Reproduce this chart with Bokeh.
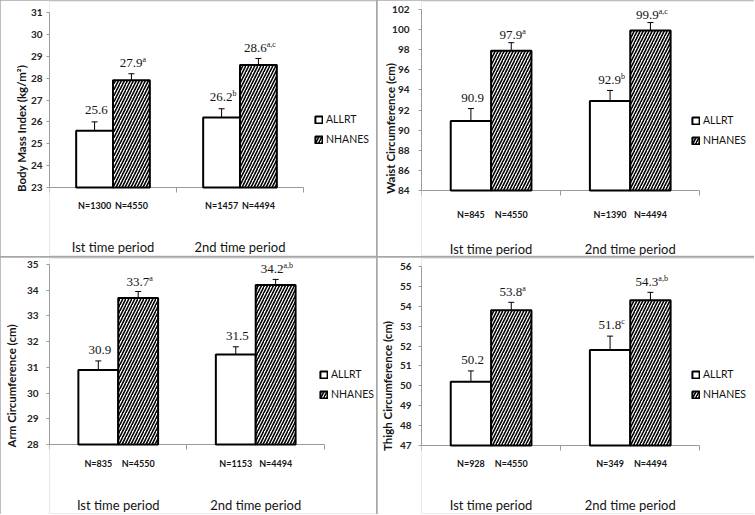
import numpy as np
from bokeh.plotting import figure
from bokeh.models import (ColumnDataSource, Range1d, FixedTicker, LinearAxis, Whisker,
                          TeeHead, Legend, LegendItem, LabelSet, GridPlot)
from bokeh.embed import file_html
from bokeh.resources import INLINE

# ---------------- data ----------------
periods = ["Ist time period", "2nd time period"]
series = ["ALLRT", "NHANES"]

bmi_allrt = [25.6, 26.2]
bmi_allrt_err = [0.4, 0.4]
bmi_allrt_sup = ["", "b"]
bmi_allrt_n = ["N=1300", "N=1457"]
bmi_nhanes = [27.9, 28.6]
bmi_nhanes_err = [0.3, 0.3]
bmi_nhanes_sup = ["a", "a,c"]
bmi_nhanes_n = ["N=4550", "N=4494"]

waist_allrt = [90.9, 92.9]
waist_allrt_err = [1.25, 1.05]
waist_allrt_sup = ["", "b"]
waist_allrt_n = ["N=845", "N=1390"]
waist_nhanes = [97.9, 99.9]
waist_nhanes_err = [0.8, 0.8]
waist_nhanes_sup = ["a", "a,c"]
waist_nhanes_n = ["N=4550", "N=4494"]

arm_allrt = [30.9, 31.5]
arm_allrt_err = [0.35, 0.3]
arm_allrt_sup = ["", ""]
arm_allrt_n = ["N=835", "N=1153"]
arm_nhanes = [33.7, 34.2]
arm_nhanes_err = [0.25, 0.22]
arm_nhanes_sup = ["a", "a,b"]
arm_nhanes_n = ["N=4550", "N=4494"]

thigh_allrt = [50.2, 51.8]
thigh_allrt_err = [0.55, 0.7]
thigh_allrt_sup = ["", "c"]
thigh_allrt_n = ["N=928", "N=349"]
thigh_nhanes = [53.8, 54.3]
thigh_nhanes_err = [0.4, 0.4]
thigh_nhanes_sup = ["a", "a,b"]
thigh_nhanes_n = ["N=4550", "N=4494"]

FONT = "Lato"
AXIS_GRAY = "#9a9a9a"
TXT = "#141414"

CW = {"0": .58, "1": .58, "2": .58, "3": .58, "4": .58, "5": .58, "6": .58,
      "7": .58, "8": .58, "9": .58, ".": .27, "a": .50, "b": .56, "c": .46, ",": .23}


def tw(s, size):
    return sum(CW.get(ch, .55) for ch in s) * size


def make_panel(title, ylo, yhi, ystep, allrt, allrt_err, allrt_sup, allrt_n,
               nh, nh_err, nh_sup, nh_n, L):
    w, h = L["w"], L["h"]
    al, ar, at, ab = L["al"], L["ar"], L["at"], L["ab"]
    ncat = len(periods)
    # frame covers the canvas; the axes are bounded to the data area
    dpp = (yhi - ylo) / (ab - at)
    x_end = ncat * (w - al) / (ar - al)
    y_end = yhi + (at - 1) * dpp
    y_start = ylo - (h - 1 - ab) * dpp
    p = figure(width=w, height=h, output_backend="svg", toolbar_location=None,
               x_range=Range1d(0, x_end), y_range=Range1d(y_start, y_end),
               x_axis_location=None, min_border_left=al, min_border_right=0,
               min_border_top=1, min_border_bottom=1)
    p.outline_line_color = None
    p.xgrid.visible = False
    p.ygrid.visible = False

    bw = 0.29
    centers = np.arange(ncat) + 0.5
    xa = centers - bw / 2
    xn = centers + bw / 2

    src_a = ColumnDataSource(dict(x=xa, top=allrt, up=np.array(allrt) + np.array(allrt_err),
                                  lo=np.array(allrt) - np.array(allrt_err)))
    src_n = ColumnDataSource(dict(x=xn, top=nh, up=np.array(nh) + np.array(nh_err),
                                  lo=np.array(nh) - np.array(nh_err)))

    r_a = p.vbar(x="x", top="top", bottom=ylo, width=bw, source=src_a,
                 fill_color="white", line_color="black", line_width=2)
    r_n = p.vbar(x="x", top="top", bottom=ylo, width=bw, source=src_n,
                 fill_color="white", line_color="black", line_width=2,
                 hatch_pattern="right_diagonal_line", hatch_color="black",
                 hatch_scale=6, hatch_weight=1.6)

    for s in (src_a, src_n):
        p.add_layout(Whisker(source=s, base="x", upper="up", lower="lo",
                             line_color="black", line_width=1,
                             upper_head=TeeHead(size=6, line_color="black", line_width=1),
                             lower_head=TeeHead(size=6, line_color="black", line_width=1)))

    # value labels with superscripts
    vals = list(allrt) + list(nh)
    sups = list(allrt_sup) + list(nh_sup)
    xs = list(xa) + list(xn)
    ups = list(np.array(allrt) + np.array(allrt_err)) + list(np.array(nh) + np.array(nh_err))
    gaps = [L["gap"][0]] * ncat + [L["gap"][1]] * ncat
    texts = ["%.1f" % v for v in vals]
    xoff = [(tw(t, 13) - tw(s, 8)) / 2 for t, s in zip(texts, sups)]
    yoff = list(gaps)
    yoff_sup = [g + 5 for g in gaps]
    lsrc = ColumnDataSource(dict(x=xs, y=ups, text=texts, sup=sups, xoff=xoff,
                                 yoff=yoff, yoff_sup=yoff_sup))
    p.add_layout(LabelSet(x="x", y="y", text="text", source=lsrc, x_offset="xoff", y_offset="yoff",
                          text_align="right", text_baseline="alphabetic",
                          text_font=FONT, text_font_size="13px", text_color=TXT))
    p.add_layout(LabelSet(x="x", y="y", text="sup", source=lsrc, x_offset="xoff",
                          y_offset="yoff_sup",
                          text_align="left", text_baseline="alphabetic",
                          text_font=FONT, text_font_size="8px", text_color=TXT))

    # y axis
    ya = p.yaxis[0]
    ya.bounds = (ylo, yhi)
    ya.ticker = FixedTicker(ticks=list(range(ylo, yhi + 1, ystep)), minor_ticks=[])
    ya.axis_label = title
    ya.axis_label_text_font = FONT
    ya.axis_label_text_font_style = "bold"
    ya.axis_label_text_font_size = "11.5px"
    ya.axis_label_text_color = TXT
    ya.axis_label_standoff = L["als"]
    ya.major_label_text_font = FONT
    ya.major_label_text_font_style = "bold"
    ya.major_label_text_font_size = "10px"
    ya.major_label_text_color = "#222222"
    ya.major_label_standoff = L["ys"]
    ya.axis_line_color = AXIS_GRAY
    ya.major_tick_line_color = AXIS_GRAY
    ya.major_tick_out = 3
    ya.major_tick_in = 0

    # category axis at the bottom of the data area: line, separating ticks, N labels
    ticks = [round(float(v), 4) for v in sorted(xs)]
    nlabels = {}
    for x, t in zip(xa, allrt_n):
        nlabels[round(float(x), 4)] = t
    for x, t in zip(xn, nh_n):
        nlabels[round(float(x), 4)] = t
    ax1 = LinearAxis(ticker=FixedTicker(ticks=ticks, minor_ticks=list(range(ncat + 1))),
                     bounds=(0, ncat), fixed_location=ylo, level="underlay",
                     major_label_overrides=nlabels,
                     axis_line_color=AXIS_GRAY, major_tick_line_color=None,
                     major_tick_out=5, major_tick_in=0,
                     minor_tick_line_color=AXIS_GRAY, minor_tick_out=5, minor_tick_in=0,
                     major_label_standoff=L["ns"],
                     major_label_text_font=FONT, major_label_text_font_style="bold",
                     major_label_text_font_size="9px", major_label_text_color=TXT)
    p.add_layout(ax1, "below")
    ax2 = LinearAxis(ticker=FixedTicker(ticks=list(centers), minor_ticks=[]),
                     fixed_location=ylo,
                     major_label_overrides={float(c): t for c, t in zip(centers, periods)},
                     axis_line_color=None, major_tick_line_color=None,
                     major_tick_out=0, major_tick_in=0, minor_tick_out=0, minor_tick_in=0,
                     minor_tick_line_color=None,
                     major_label_standoff=L["ps"],
                     major_label_text_font=FONT, major_label_text_font_size="13px",
                     major_label_text_color=TXT)
    p.add_layout(ax2, "below")

    # legend, positioned from the reference: glyph left edge and first glyph center
    gx, gy = L["leg"]
    item_h = 20
    leg_bottom = gy - item_h / 2 + 2 * item_h
    legend = Legend(items=[LegendItem(label=series[0], renderers=[r_a]),
                           LegendItem(label=series[1], renderers=[r_n])],
                    location=(gx - al, (h - 1) - leg_bottom), orientation="vertical",
                    glyph_width=9, glyph_height=9, label_height=item_h, spacing=0,
                    padding=0, margin=0, label_standoff=3,
                    label_text_font=FONT, label_text_font_size="10.5px",
                    label_text_color=TXT,
                    border_line_color=None, background_fill_color=None)
    p.add_layout(legend, "center")
    return p


L1 = dict(w=376, h=256, al=49, ar=303, at=12, ab=187, als=0, ys=4, ns=7, ps=51,
          leg=(314, 119), gap=(8, 6.5))
L2 = dict(w=377, h=256, al=42, ar=322, at=9, ab=190, als=-8, ys=9, ns=13, ps=50,
          leg=(312, 120), gap=(6.5, 3.7))
L3 = dict(w=376, h=257, al=43, ar=323, at=7, ab=187, als=6, ys=8, ns=8, ps=52,
          leg=(313, 117), gap=(7.2, 6))
L4 = dict(w=377, h=257, al=42, ar=322, at=9, ab=188, als=3, ys=7, ns=7, ps=51,
          leg=(312, 117), gap=(7, 6.2))

p1 = make_panel("Body Mass Index (kg/m²)", 23, 31, 1, bmi_allrt, bmi_allrt_err, bmi_allrt_sup,
                bmi_allrt_n, bmi_nhanes, bmi_nhanes_err, bmi_nhanes_sup, bmi_nhanes_n, L1)
p2 = make_panel("Waist Circumference (cm)", 84, 102, 2, waist_allrt, waist_allrt_err,
                waist_allrt_sup, waist_allrt_n, waist_nhanes, waist_nhanes_err,
                waist_nhanes_sup, waist_nhanes_n, L2)
p3 = make_panel("Arm Circumference (cm)", 28, 35, 1, arm_allrt, arm_allrt_err, arm_allrt_sup,
                arm_allrt_n, arm_nhanes, arm_nhanes_err, arm_nhanes_sup, arm_nhanes_n, L3)
p4 = make_panel("Thigh Circumference (cm)", 47, 56, 1, thigh_allrt, thigh_allrt_err,
                thigh_allrt_sup, thigh_allrt_n, thigh_nhanes, thigh_nhanes_err,
                thigh_nhanes_sup, thigh_nhanes_n, L4)

grid = GridPlot(children=[(p1, 0, 0), (p2, 0, 1), (p3, 1, 0), (p4, 1, 1)],
                spacing=1, toolbar_location=None,
                styles={"background-color": "#a8a8a8"})

open("out.html", "w").write(file_html(grid, INLINE))
